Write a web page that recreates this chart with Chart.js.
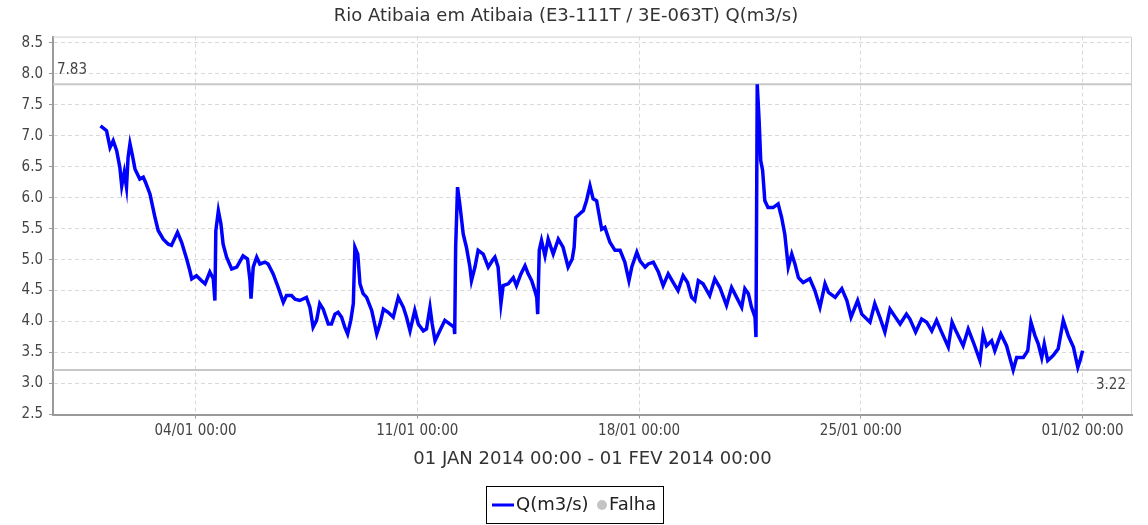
<!DOCTYPE html>
<html>
<head>
<meta charset="utf-8">
<script src="https://cdn.jsdelivr.net/npm/chart.js@4.4.1/dist/chart.umd.min.js"></script>
<style>
  html, body { margin: 0; padding: 0; background: #ffffff; }
  #wrap { width: 1148px; height: 525px; }
</style>
</head>
<body>
<div id="wrap"><canvas id="c" width="1148" height="525"></canvas></div>
<script>
// ---- data (days since 01 JAN 2014 00:00) ----
const chartTitle = 'Rio Atibaia em Atibaia (E3-111T / 3E-063T) Q(m3/s)';
const xAxisTitle = '01 JAN 2014 00:00 - 01 FEV 2014 00:00';
const seriesLabel = 'Q(m3/s)';
const falhaLabel = 'Falha';

const flowDays = [
  0.00, 0.19, 0.30, 0.40, 0.51, 0.61, 0.67, 0.75, 0.82, 0.87, 0.93, 1.00, 1.09, 1.24, 1.35, 1.42, 1.56, 1.72, 1.82, 1.98,
  2.14, 2.24, 2.43, 2.56, 2.72, 2.82, 2.88, 3.03, 3.19, 3.30, 3.45, 3.56, 3.61, 3.64, 3.72, 3.80, 3.87, 3.98, 4.14, 4.30,
  4.50, 4.64, 4.72, 4.75, 4.82, 4.93, 5.03, 5.19, 5.29, 5.45, 5.61, 5.77, 5.87, 6.03, 6.14, 6.29, 6.50, 6.61, 6.71, 6.82,
  6.92, 7.03, 7.19, 7.29, 7.40, 7.50, 7.61, 7.71, 7.80, 7.90, 7.98, 8.03, 8.12, 8.19, 8.29, 8.40, 8.56, 8.72, 8.82, 8.93,
  9.08, 9.24, 9.40, 9.56, 9.66, 9.77, 9.92, 10.03, 10.19, 10.29, 10.40, 10.47, 10.56, 10.71, 10.87, 11.03, 11.16, 11.18, 11.21, 11.27,
  11.34, 11.45, 11.55, 11.66, 11.71, 11.82, 11.92, 12.08, 12.24, 12.40, 12.45, 12.55, 12.64, 12.71, 12.87, 13.03, 13.13, 13.27, 13.40, 13.50,
  13.61, 13.71, 13.77, 13.80, 13.85, 13.92, 14.03, 14.13, 14.29, 14.45, 14.60, 14.76, 14.89, 14.95, 15.00, 15.13, 15.24, 15.34, 15.45, 15.55,
  15.66, 15.82, 15.92, 16.08, 16.24, 16.40, 16.55, 16.68, 16.77, 16.93, 17.03, 17.19, 17.29, 17.45, 17.61, 17.76, 17.92, 18.08, 18.23, 18.39,
  18.53, 18.66, 18.76, 18.87, 19.02, 19.23, 19.39, 19.55, 19.76, 19.92, 20.08, 20.24, 20.34, 20.45, 20.55, 20.66, 20.69, 20.73, 20.79, 20.84,
  20.90, 20.97, 21.07, 21.23, 21.39, 21.50, 21.60, 21.71, 21.82, 21.92, 22.03, 22.18, 22.39, 22.55, 22.71, 22.87, 22.98, 23.19, 23.40, 23.56,
  23.69, 23.90, 24.03, 24.29, 24.44, 24.60, 24.76, 24.92, 25.08, 25.24, 25.44, 25.55, 25.73, 25.92, 26.08, 26.24, 26.39, 26.55, 26.76, 26.88,
  27.02, 27.23, 27.39, 27.55, 27.76, 27.86, 27.97, 28.13, 28.23, 28.42, 28.60, 28.81, 28.92, 29.13, 29.27, 29.37, 29.50, 29.60, 29.71, 29.79,
  29.90, 30.07, 30.23, 30.39, 30.55, 30.71, 30.85, 30.92, 31.00
];
const flowValues = [
  7.16, 7.08, 6.81, 6.92, 6.76, 6.49, 6.19, 6.41, 6.17, 6.65, 6.87, 6.70, 6.46, 6.30, 6.33, 6.25, 6.06, 5.68, 5.47, 5.33,
  5.25, 5.23, 5.44, 5.28, 5.01, 4.82, 4.69, 4.74, 4.66, 4.61, 4.80, 4.69, 4.34, 5.47, 5.79, 5.58, 5.25, 5.04, 4.85, 4.88,
  5.06, 5.01, 4.66, 4.37, 4.88, 5.04, 4.93, 4.96, 4.93, 4.77, 4.55, 4.31, 4.42, 4.42, 4.36, 4.34, 4.39, 4.23, 3.91, 4.02,
  4.29, 4.20, 3.96, 3.96, 4.12, 4.15, 4.07, 3.91, 3.80, 4.02, 4.29, 5.20, 5.09, 4.61, 4.45, 4.39, 4.18, 3.80, 3.96, 4.20,
  4.15, 4.07, 4.39, 4.23, 4.07, 3.85, 4.18, 3.96, 3.85, 3.88, 4.23, 3.96, 3.69, 3.85, 4.02, 3.96, 3.91, 3.80, 5.20, 6.17,
  5.90, 5.41, 5.20, 4.88, 4.66, 4.88, 5.15, 5.09, 4.88, 5.01, 5.04, 4.88, 4.29, 4.58, 4.61, 4.71, 4.58, 4.77, 4.90, 4.77,
  4.66, 4.50, 4.39, 4.12, 5.15, 5.31, 5.06, 5.33, 5.09, 5.33, 5.20, 4.88, 5.01, 5.20, 5.68, 5.74, 5.79, 5.95, 6.19, 5.98,
  5.95, 5.49, 5.52, 5.28, 5.15, 5.15, 4.96, 4.66, 4.88, 5.12, 4.98, 4.88, 4.93, 4.96, 4.80, 4.58, 4.77, 4.63, 4.50, 4.74,
  4.63, 4.39, 4.34, 4.66, 4.61, 4.42, 4.69, 4.55, 4.26, 4.55, 4.39, 4.23, 4.53, 4.45, 4.23, 4.07, 3.75, 7.83, 7.24, 6.60,
  6.44, 5.95, 5.84, 5.84, 5.90, 5.68, 5.41, 4.88, 5.09, 4.93, 4.71, 4.63, 4.69, 4.50, 4.23, 4.61, 4.47, 4.39, 4.53, 4.34,
  4.07, 4.34, 4.12, 3.99, 4.29, 4.07, 3.83, 4.20, 4.08, 3.96, 4.12, 4.04, 3.83, 4.04, 3.99, 3.85, 4.02, 3.83, 3.59, 3.99,
  3.83, 3.61, 3.88, 3.67, 3.37, 3.80, 3.61, 3.69, 3.53, 3.80, 3.61, 3.22, 3.42, 3.42, 3.53, 3.99, 3.77, 3.64, 3.42, 3.64,
  3.37, 3.45, 3.56, 4.02, 3.77, 3.59, 3.26, 3.37, 3.53
];
const maxValue = 7.83;
const minValue = 3.22;

const yTickValues = [2.5, 3.0, 3.5, 4.0, 4.5, 5.0, 5.5, 6.0, 6.5, 7.0, 7.5, 8.0, 8.5];
const xTickDays = [3, 10, 17, 24, 31];
const xTickLabels = ['04/01 00:00', '11/01 00:00', '18/01 00:00', '25/01 00:00', '01/02 00:00'];

const X_MIN = -1.5, X_MAX = 32.56;
const Y_MIN = 2.5, Y_MAX = 8.6;

// ---- chart ----
const tickFont = { family: "'DejaVu Sans Condensed', 'DejaVu Sans', sans-serif", size: 15 };
const textFont = "'DejaVu Sans', sans-serif";

const flowPoints = flowDays.map((d, i) => ({ x: d, y: flowValues[i] }));

const framePlugin = {
  id: 'frame',
  beforeDatasetsDraw(chart) {
    const { ctx, chartArea: a } = chart;
    ctx.save();
    ctx.strokeStyle = '#cfcfcf';
    ctx.lineWidth = 1;
    ctx.beginPath();
    ctx.moveTo(a.left, a.top + 0.5);
    ctx.lineTo(a.right - 0.5, a.top + 0.5);
    ctx.lineTo(a.right - 0.5, a.bottom);
    ctx.stroke();
    ctx.restore();
  },
  afterDatasetsDraw(chart) {
    const { ctx, chartArea: a, scales } = chart;
    ctx.save();
    ctx.font = '15px ' + tickFont.family;
    ctx.fillStyle = '#444444';
    ctx.textBaseline = 'middle';
    const yMax = scales.y.getPixelForValue(maxValue);
    const yMin = scales.y.getPixelForValue(minValue);
    ctx.textAlign = 'left';
    ctx.fillText(maxValue.toFixed(2), a.left + 4, yMax - 14);
    ctx.textAlign = 'right';
    ctx.fillText(minValue.toFixed(2), a.right - 6, yMin + 15);
    ctx.restore();
  }
};

const legendPlugin = {
  id: 'boxLegend',
  afterDraw(chart) {
    const { ctx } = chart;
    const cy = 505;
    ctx.save();
    ctx.strokeStyle = '#000000';
    ctx.lineWidth = 1;
    ctx.strokeRect(486.5, 486.5, 177, 37);
    const ds0 = chart.data.datasets[0];
    const ds1 = chart.data.datasets[1];
    ctx.strokeStyle = ds0.borderColor;
    ctx.lineWidth = 3;
    ctx.beginPath();
    ctx.moveTo(492, cy);
    ctx.lineTo(514, cy);
    ctx.stroke();
    ctx.font = '18px ' + textFont;
    ctx.fillStyle = '#222222';
    ctx.textBaseline = 'middle';
    ctx.textAlign = 'left';
    ctx.fillText(ds0.label, 516, cy);
    ctx.fillStyle = ds1.pointBackgroundColor;
    ctx.beginPath();
    ctx.arc(602, cy, 5, 0, Math.PI * 2);
    ctx.fill();
    ctx.fillStyle = '#222222';
    ctx.fillText(ds1.label, 609, cy);
    ctx.restore();
  }
};

new Chart(document.getElementById('c'), {
  type: 'line',
  data: {
    datasets: [
      {
        label: seriesLabel,
        data: flowPoints,
        borderColor: '#0000ff',
        backgroundColor: '#0000ff',
        borderWidth: 3.5,
        pointRadius: 0,
        tension: 0,
        order: 1
      },
      {
        label: falhaLabel,
        data: [],
        pointBackgroundColor: '#c4c4c4',
        borderColor: '#c4c4c4',
        pointRadius: 5,
        showLine: false
      },
      {
        label: 'max',
        data: [{ x: X_MIN, y: maxValue }, { x: X_MAX, y: maxValue }],
        borderColor: '#c8c8c8',
        borderWidth: 2,
        pointRadius: 0,
        order: 2
      },
      {
        label: 'min',
        data: [{ x: X_MIN, y: minValue }, { x: X_MAX, y: minValue }],
        borderColor: '#c8c8c8',
        borderWidth: 2,
        pointRadius: 0,
        order: 2
      }
    ]
  },
  options: {
    responsive: false,
    animation: false,
    devicePixelRatio: 1,
    layout: { padding: { left: 0, right: 16, top: 0, bottom: 55 } },
    plugins: {
      legend: { display: false },
      tooltip: { enabled: false },
      title: {
        display: true,
        text: chartTitle,
        color: '#333333',
        font: { family: textFont, size: 18, weight: 'normal' },
        padding: { top: 6, bottom: 9 }
      }
    },
    scales: {
      x: {
        type: 'linear',
        min: X_MIN,
        max: X_MAX,
        afterBuildTicks(scale) { scale.ticks = xTickDays.map(v => ({ value: v })); },
        afterFit(scale) { scale.height = 55.5; },
        ticks: {
          autoSkip: false,
          maxRotation: 0,
          padding: 4,
          color: '#444444',
          font: tickFont,
          callback(value) {
            const i = xTickDays.indexOf(value);
            return i >= 0 ? xTickLabels[i] : '';
          }
        },
        grid: {
          color: '#d9d9d9',
          lineWidth: 1,
          tickLength: 4,
          tickColor: '#999999',
          tickWidth: 1
        },
        border: { display: true, color: '#9a9a9a', width: 2, dash: [4, 3] },
        title: {
          display: true,
          text: xAxisTitle,
          color: '#333333',
          font: { family: textFont, size: 18 },
          padding: { top: 0, bottom: 0 }
        }
      },
      y: {
        type: 'linear',
        min: Y_MIN,
        max: Y_MAX,
        afterBuildTicks(scale) { scale.ticks = yTickValues.map(v => ({ value: v })); },
        afterFit(scale) { scale.width = 53; },
        ticks: {
          padding: 6,
          color: '#444444',
          font: tickFont,
          callback(value) { return Number(value).toFixed(1); }
        },
        grid: {
          color: '#d9d9d9',
          lineWidth: 1,
          tickLength: 4,
          tickColor: '#999999',
          tickWidth: 1
        },
        border: { display: true, color: '#9a9a9a', width: 2, dash: [4, 3] }
      }
    }
  },
  plugins: [framePlugin, legendPlugin]
});
</script>
</body>
</html>
